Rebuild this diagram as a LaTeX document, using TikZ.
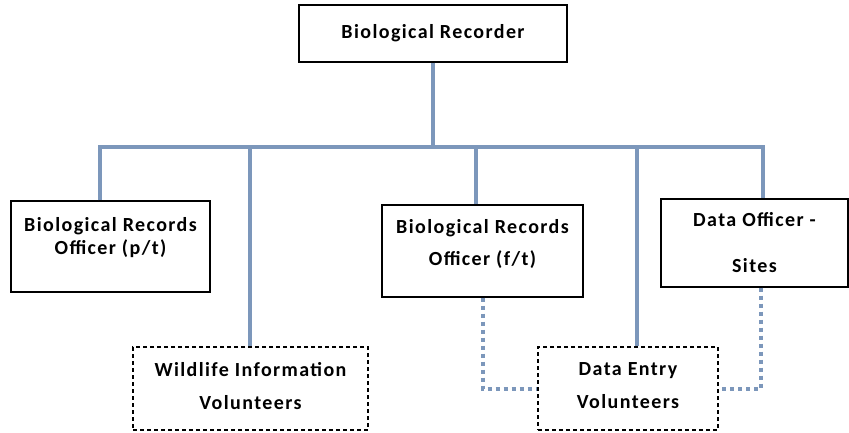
\documentclass[tikz,border=0pt]{standalone}
\usepackage{fontspec}
\setmainfont[LetterSpace=7]{Carlito}
\usetikzlibrary{calc}
\definecolor{linkblue}{RGB}{124,151,187}

\begin{document}
\begin{tikzpicture}
  [
    x=1pt, y=-1pt,
    every node/.style={font=\bfseries\fontsize{20}{23}\selectfont, align=center},
    box/.style = {draw, rectangle, line width=1.1pt, inner sep=0pt},
    volbox/.style = {box, dash pattern=on 4pt off 3pt},
    link/.style = {draw=linkblue, line width=4.5pt},
    dotlink/.style = {draw=linkblue, line width=4pt, dash pattern=on 4pt off 4pt},
  ]

  \useasboundingbox (0,0) rectangle (849,432);

  % the bus and where the drops leave it
  \def\bus{147}
  \coordinate (b1) at (100,\bus);
  \coordinate (b2) at (250,\bus);
  \coordinate (b3) at (476,\bus);
  \coordinate (b4) at (637,\bus);
  \coordinate (b5) at (763,\bus);
  \coordinate (d5) at (761,\bus);

  % the boxes
  \node (recorder) at (433,33.5) [box, minimum width=268pt, minimum height=57pt] {Biological Recorder};

  \node (brop) at (110.5,246.5) [box, minimum width=199pt, minimum height=91pt, text depth=21pt] {Biological Records\\Officer (p/t)};
  \node (brof) at (482.5,251) [box, minimum width=201pt, minimum height=92pt, text depth=17pt] {Biological Records\\[9pt]Officer (f/t)};
  \node (dos) at (754.5,243) [box, minimum width=187pt, minimum height=88pt] {Data Officer -\\[23pt]Sites};

  \node (wiv) at (250.5,388.5) [volbox, minimum width=235pt, minimum height=83pt, text depth=6pt] {Wildlife Information\\[10pt]Volunteers};
  \node (dev) at (628,388.5) [volbox, minimum width=180pt, minimum height=83pt, text depth=6pt] {Data Entry\\[10pt]Volunteers};

  % solid lines
  \draw[link] (recorder.south) -- (recorder.south |- b1);
  \draw[link] (b1 |- brop.north) -- (b1) -- (b5) -- (b5 |- dos.north);
  \draw[link] (b2) -- (b2 |- wiv.north);
  \draw[link] (b3) -- (b3 |- brof.north);
  \draw[link] (b4) -- (b4 |- dev.north);

  % dotted lines
  \draw[dotlink] (brof.south) |- (dev.west);
  \draw[dotlink] (d5 |- dos.south) |- (dev.east);

\end{tikzpicture}
\end{document}
